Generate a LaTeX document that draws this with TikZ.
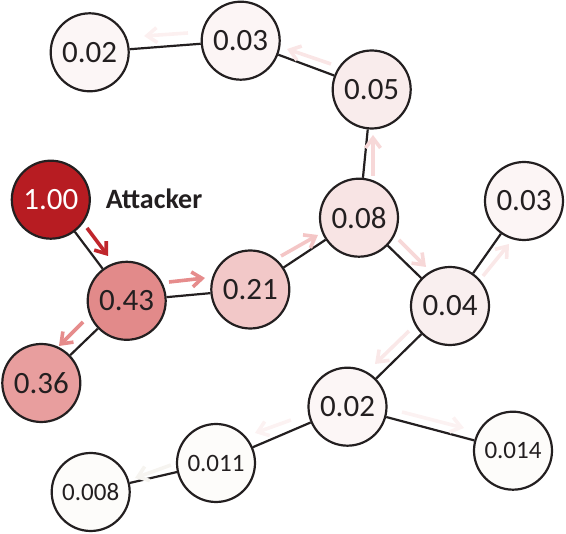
\documentclass[tikz,border=0pt]{standalone}
\usepackage{fontspec}
\setmainfont{Carlito}
\usetikzlibrary{arrows.meta}
\definecolor{ink}{HTML}{231F20}
\definecolor{c100}{HTML}{B71C22}
\definecolor{c43}{HTML}{E28A8A}
\definecolor{c36}{HTML}{E89E9E}
\definecolor{c21}{HTML}{F2C8C8}
\definecolor{c08}{HTML}{F8E4E4}
\definecolor{c05}{HTML}{F9ECEC}
\definecolor{c04}{HTML}{F9EFEF}
\definecolor{c03}{HTML}{FCF5F5}
\definecolor{c02}{HTML}{FCF6F6}
\definecolor{clow}{HTML}{FDFCFA}
\definecolor{a100}{HTML}{C0262C}
\definecolor{a43}{HTML}{E68C8C}
\definecolor{a21}{HTML}{F4C6C6}
\definecolor{a08}{HTML}{F7D8D8}
\definecolor{a05}{HTML}{FAE6E6}
\definecolor{a03}{HTML}{FCF0F0}
\definecolor{a04}{HTML}{FAE8E8}
\definecolor{a02}{HTML}{FCF2F2}
\definecolor{a011}{HTML}{F6F4F0}
\begin{document}
\begin{tikzpicture}[x=1pt,y=-1pt,
  nd/.style={circle,draw=ink,line width=2.2pt,minimum size=78pt,inner sep=0pt,
    font=\fontsize{31}{31}\selectfont,text=ink},
  sm/.style={font=\fontsize{25}{25}\selectfont},
  ed/.style={draw=ink,line width=2.2pt},
  fl/.style={line width=3.6pt,-{Straight Barb[length=10pt,width=15pt]}},
]
\useasboundingbox (0,0) rectangle (566,534);
% nodes
\node[nd,fill=c02] (n02a) at (89.7,52.3) {0.02};
\node[nd,fill=c03] (n03a) at (240.7,40.7) {0.03};
\node[nd,fill=c05] (n05) at (371.7,89.5) {0.05};
\node[nd,fill=c100,text=white] (n100) at (50.8,199.7) {1.00};
\node[nd,fill=c08] (n08) at (359,217.7) {0.08};
\node[nd,fill=c03] (n03b) at (524,201) {0.03};
\node[nd,fill=c43] (n43) at (126.7,300.8) {0.43};
\node[nd,fill=c21] (n21) at (250.3,289.5) {0.21};
\node[nd,fill=c04] (n04) at (450,306) {0.04};
\node[nd,fill=c36] (n36) at (41.3,383) {0.36};
\node[nd,fill=c02] (n02b) at (347.5,406.7) {0.02};
\node[nd,sm,fill=clow] (n011) at (216,463) {0.011};
\node[nd,sm,fill=clow] (n014) at (513,450.7) {0.014};
\node[nd,sm,fill=clow] (n008) at (90.7,492) {0.008};
\node[font=\fontsize{28}{28}\selectfont\bfseries,text=ink] (att) at (154,199) {Attacker};
% edges
\draw[ed] (n02a) -- (n03a);
\draw[ed] (n03a) -- (n05);
\draw[ed] (n05) -- (n08);
\draw[ed] (n100) -- (n43);
\draw[ed] (n43) -- (n21);
\draw[ed] (n43) -- (n36);
\draw[ed] (n21) -- (n08);
\draw[ed] (n08) -- (n04);
\draw[ed] (n04) -- (n03b);
\draw[ed] (n04) -- (n02b);
\draw[ed] (n02b) -- (n011);
\draw[ed] (n02b) -- (n014);
\draw[ed] (n011) -- (n008);
% flow arrows
\coordinate (f1s) at (87,228);   \coordinate (f1e) at (108,256);
\coordinate (f2s) at (169,282);  \coordinate (f2e) at (205,278);
\coordinate (f3s) at (83,322);   \coordinate (f3e) at (59,346);
\coordinate (f4s) at (281,256);  \coordinate (f4e) at (318,235);
\coordinate (f5s) at (373,176);  \coordinate (f5e) at (373,135);
\coordinate (f6s) at (331,64);   \coordinate (f6e) at (287,49);
\coordinate (f7s) at (188,33);   \coordinate (f7e) at (144,36);
\coordinate (f8s) at (399,240);  \coordinate (f8e) at (426,267);
\coordinate (f9s) at (483,276);  \coordinate (f9e) at (509,244);
\coordinate (f10s) at (409,331); \coordinate (f10e) at (375,364);
\coordinate (f11s) at (402,412); \coordinate (f11e) at (464,428);
\coordinate (f12s) at (291,420); \coordinate (f12e) at (255,433);
\coordinate (f13s) at (171,465); \coordinate (f13e) at (135,478);
\draw[fl,draw=a100] (f1s) -- (f1e);
\draw[fl,draw=a43] (f2s) -- (f2e);
\draw[fl,draw=a43] (f3s) -- (f3e);
\draw[fl,draw=a21] (f4s) -- (f4e);
\draw[fl,draw=a08] (f5s) -- (f5e);
\draw[fl,draw=a05] (f6s) -- (f6e);
\draw[fl,draw=a03] (f7s) -- (f7e);
\draw[fl,draw=a08] (f8s) -- (f8e);
\draw[fl,draw=a04] (f9s) -- (f9e);
\draw[fl,draw=a04] (f10s) -- (f10e);
\draw[fl,draw=a02] (f11s) -- (f11e);
\draw[fl,draw=a02] (f12s) -- (f12e);
\draw[fl,draw=a011] (f13s) -- (f13e);
\end{tikzpicture}
\end{document}
